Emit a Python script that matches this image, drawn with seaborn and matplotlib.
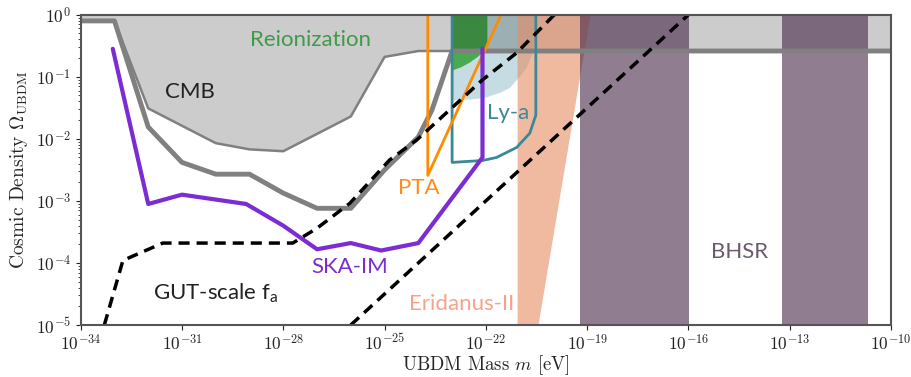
import numpy as np
import matplotlib
matplotlib.use("Agg")
import matplotlib.pyplot as plt
import seaborn as sns

# all curves given as log10(m / eV), log10(Omega)
gray_logm = [-34, -33, -32, -31, -30, -29, -28, -27, -26, -25, -24, -23.6, -23.0, -10]
gray_logo = [-0.10, -0.10, -1.81, -2.38, -2.57, -2.57, -2.875, -3.12, -3.12, -2.50, -1.97, -1.54, -0.585, -0.585]

cmb_logm = [-34, -33, -32, -30, -29, -28, -26, -25, -24, -10]
cmb_logo = [-0.10, -0.10, -1.51, -2.07, -2.17, -2.20, -1.64, -0.68, -0.585, -0.585]

ska_logm = [-33.05, -32.0, -31.0, -29.1, -28.0, -27.0, -26.0, -25.1, -24.0, -22.1, -22.1]
ska_logo = [-0.55, -3.05, -2.90, -3.05, -3.40, -3.78, -3.68, -3.80, -3.68, -2.30, -0.55]

gut_logm = [-33.3, -32.75, -31.57, -27.72, -27.0, -26.03, -24.85, -24.05, -22.1, -21.1, -19.97]
gut_logo = [-5.0, -3.96, -3.68, -3.68, -3.44, -3.04, -2.34, -2.02, -1.05, -0.62, 0.0]

gut2_logm = [-26.0, -16.0]
gut2_logo = [-5.0, 0.0]

pta_logm = [-23.72, -23.72, -21.55]
pta_logo = [0.0, -2.59, 0.0]

reion_logm = [-23.0, -22.75, -22.48, -22.25, -22.1, -21.97]
reion_logo = [-0.89, -0.84, -0.76, -0.67, -0.60, -0.49]

lya_fill_logm = [-23.0, -22.48, -22.03, -21.59, -21.3, -21.06, -20.82, -20.65, -20.56, -20.5]
lya_fill_logo = [-1.37, -1.36, -1.33, -1.25, -1.17, -1.02, -0.86, -0.65, -0.41, 0.0]

lya_logm = [-23.0, -23.0, -22.1, -21.68, -21.09, -20.7, -20.52, -20.52]
lya_logo = [0.0, -2.38, -2.35, -2.30, -2.14, -1.91, -1.62, 0.0]

eri_logm = [-21.06, -21.06, -18.9, -20.44]
eri_logo = [-5.0, 0.0, 0.0, -5.0]

bhsr_lo = [-19.2, -13.22]
bhsr_hi = [-15.97, -10.68]

xticks = [-34, -31, -28, -25, -22, -19, -16, -13, -10]
yticks = [-5, -4, -3, -2, -1, 0]


def p10(v):
    return np.power(10.0, np.asarray(v, dtype=float))


sns.set_style("ticks")
plt.rcParams["font.family"] = "serif"
plt.rcParams["font.serif"] = ["cmr10", "DejaVu Serif"]
plt.rcParams["mathtext.fontset"] = "cm"
plt.rcParams["axes.formatter.use_mathtext"] = True
plt.rcParams["axes.unicode_minus"] = True

fig = plt.figure(figsize=(9.12, 3.77), dpi=100)
ax = fig.add_axes([0.0885, 0.138, 0.8885, 0.823])
ax.set_xscale("log")
ax.set_yscale("log")
ax.set_xlim(1e-34, 1e-10)
ax.set_ylim(1e-5, 1e0)

# shaded regions (under the gray band)
ax.fill_between(p10(reion_logm), p10(reion_logo), 1.0, color="#4aaa52", lw=0, zorder=1.2)
ax.fill_between(p10(lya_fill_logm), p10(lya_fill_logo), 1.0, color="#c4dce2", lw=0, zorder=1.1)

# CMB / relic density band
ax.fill_between(p10(cmb_logm), p10(cmb_logo), 1.0, color="k", alpha=0.2, lw=0, zorder=1.5)

# Eridanus-II and BHSR on top with alpha
ax.fill(p10(eri_logm), p10(eri_logo), color="#e68c63", alpha=0.6, lw=0, zorder=2)
for lo, hi in zip(bhsr_lo, bhsr_hi):
    ax.axvspan(10.0 ** lo, 10.0 ** hi, color="#472647", alpha=0.6, lw=0, zorder=2)

kw = dict(sort=False, estimator=None, ax=ax, legend=False)
sns.lineplot(x=p10(cmb_logm), y=p10(cmb_logo), color="#808080", lw=1.8, zorder=3, **kw)
sns.lineplot(x=p10(gray_logm), y=p10(gray_logo), color="#808080", lw=3.5, zorder=3.2, **kw)
sns.lineplot(x=p10(lya_logm), y=p10(lya_logo), color="#3a8898", lw=2, zorder=3.3, **kw)
sns.lineplot(x=p10(pta_logm), y=p10(pta_logo), color="#ff8c00", lw=2, zorder=3.4, **kw)
sns.lineplot(x=p10(ska_logm), y=p10(ska_logo), color="#7b2cd3", lw=3, zorder=3.5, **kw)
sns.lineplot(x=p10(gut_logm), y=p10(gut_logo), color="k", lw=2.5,
             linestyle=(0, (3.2, 2.0)), zorder=3.6, **kw)
sns.lineplot(x=p10(gut2_logm), y=p10(gut2_logo), color="k", lw=2.5,
             linestyle=(0, (3.2, 2.0)), zorder=3.6, **kw)

# labels
tfont = dict(family=["Lato", "DejaVu Sans"], fontweight="normal", fontsize=16, zorder=5)
ax.text(10 ** -27.2, 10 ** -0.41, "Reionization", color="#3f9a4a", ha="center", va="center", **tfont)
ax.text(10 ** -30.77, 10 ** -1.25, "CMB", color="#222222", ha="center", va="center", **tfont)
ax.text(10 ** -24.0, 10 ** -2.8, "PTA", color="#ff8c1a", ha="center", va="center", **tfont)
ax.text(10 ** -21.33, 10 ** -1.59, "Ly-a", color="#3a8898", ha="center", va="center", **tfont)
ax.text(10 ** -26.03, 10 ** -4.07, "SKA-IM", color="#7b2cd3", ha="center", va="center", **tfont)
ax.text(10 ** -30.0, 10 ** -4.49, r"GUT-scale f$_\mathregular{a}$", color="#222222",
        ha="center", va="center", **tfont)
ax.text(10 ** -21.15, 10 ** -4.67, "Eridanus-II", color="#f4a388", ha="right", va="center", **tfont)
ax.text(10 ** -14.5, 10 ** -3.83, "BHSR", color="#6b5a6b", ha="center", va="center", **tfont)

ax.set_xticks(p10(xticks))
ax.set_yticks(p10(yticks))
ax.tick_params(axis="both", labelsize=12.5, colors="#222222")
ax.tick_params(axis="x", pad=2)
for s in ax.spines.values():
    s.set_color("#555555")
    s.set_linewidth(1.5)
    s.set_zorder(6)
ax.set_xlabel(r"UBDM Mass $m$ [eV]", fontsize=13.5, labelpad=0)
ax.set_ylabel(r"Cosmic Density $\Omega_{\rm UBDM}$", fontsize=14, labelpad=4)

fig.savefig("out.png", dpi=100)
